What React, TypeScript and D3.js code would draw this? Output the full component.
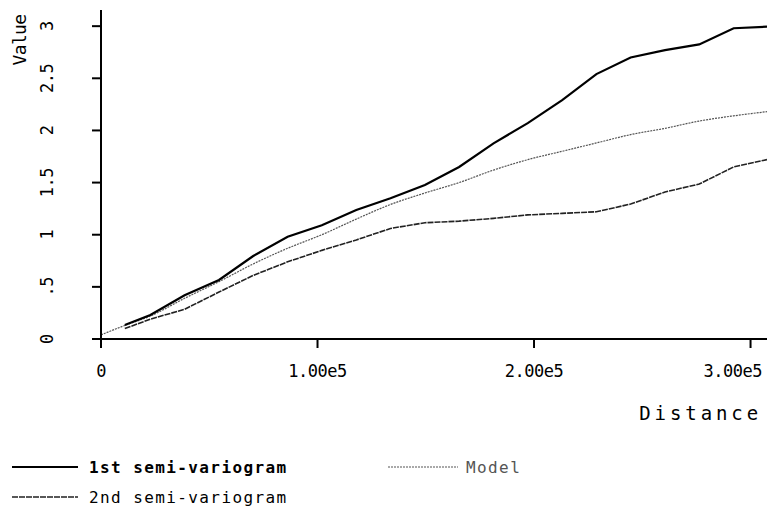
import React from "react";
import * as d3 from "d3";

const distances1 = [11000, 22800, 38600, 54500, 70300, 86200, 102000, 117900, 133700, 149600, 165400, 181300, 197100, 213000, 228800, 244600, 260500, 276300, 292200, 307600];
const firstSemi = [0.134, 0.23, 0.42, 0.566, 0.796, 0.98, 1.09, 1.237, 1.35, 1.476, 1.65, 1.876, 2.07, 2.29, 2.54, 2.70, 2.77, 2.825, 2.98, 2.995];
const secondSemi = [0.10, 0.19, 0.285, 0.45, 0.61, 0.74, 0.85, 0.95, 1.06, 1.115, 1.13, 1.157, 1.19, 1.205, 1.22, 1.294, 1.41, 1.486, 1.65, 1.72];
const modelDist = [0, 11000, 22800, 38600, 54500, 70300, 86200, 102000, 117900, 133700, 149600, 165400, 181300, 197100, 213000, 228800, 244600, 260500, 276300, 292200, 307600];
const modelVals = [0.04, 0.13, 0.22, 0.39, 0.55, 0.72, 0.87, 1.0, 1.15, 1.29, 1.40, 1.50, 1.62, 1.72, 1.80, 1.88, 1.96, 2.02, 2.09, 2.14, 2.18];
const xTicks = [0, 100000, 200000, 300000];
const xTickLabels = ["0", "1.00e5", "2.00e5", "3.00e5"];
const yTicks = [0, 0.5, 1, 1.5, 2, 2.5, 3];
const yTickLabels = ["0", ".5", "1", "1.5", "2", "2.5", "3"];

const W = 767;
const H = 509;
const FONT = "'DejaVu Sans Mono', monospace";

export default function App() {
  const x = d3.scaleLinear().domain([0, 307600]).range([101, 767]);
  const y = d3.scaleLinear().domain([0, 3.155]).range([339, 10]);

  const line = d3
    .line<[number, number]>()
    .x((d) => x(d[0]))
    .y((d) => y(d[1]));
  const smooth = d3
    .line<[number, number]>()
    .x((d) => x(d[0]))
    .y((d) => y(d[1]))
    .curve(d3.curveMonotoneX);

  const p1 = line(distances1.map((d, i) => [d, firstSemi[i]]) as [number, number][]) || "";
  const p2 = line(distances1.map((d, i) => [d, secondSemi[i]]) as [number, number][]) || "";
  const pm = smooth(modelDist.map((d, i) => [d, modelVals[i]]) as [number, number][]) || "";

  const x0 = x(0);
  const y0 = y(0);

  return (
    <svg
      width={W}
      height={H}
      style={{ position: "absolute", left: 0, top: 0, background: "#fff" }}
      fontFamily={FONT}
    >
      <rect x={0} y={0} width={W} height={H} fill="#fff" />
      <path d={pm} fill="none" stroke="#555" strokeWidth={1.2} strokeDasharray="2 1" />
      <path d={p2} fill="none" stroke="#222" strokeWidth={1.6} strokeDasharray="6 1" />
      <path d={p1} fill="none" stroke="#000" strokeWidth={2.2} />

      <line x1={x0} x2={x0} y1={y(3.155)} y2={y0 + 9} stroke="#000" strokeWidth={2} />
      <line x1={x0 - 9} x2={767} y1={y0} y2={y0} stroke="#000" strokeWidth={2} />
      {yTicks.map((t, i) => (
        <g key={"y" + i}>
          <line x1={x0 - 9} x2={x0} y1={y(t)} y2={y(t)} stroke="#000" strokeWidth={2} />
          <text
            transform={`translate(47,${y(t)}) rotate(-90)`}
            textAnchor="middle"
            dominantBaseline="central"
            fontSize={17}
            letterSpacing={-0.5}
          >
            {yTickLabels[i]}
          </text>
        </g>
      ))}
      {xTicks.map((t, i) => (
        <g key={"x" + i}>
          <line x1={x(t)} x2={x(t)} y1={y0} y2={y0 + 9} stroke="#000" strokeWidth={2} />
          <text
            x={i === xTicks.length - 1 ? 762 : x(t)}
            y={371}
            textAnchor={i === xTicks.length - 1 ? "end" : "middle"}
            dominantBaseline="central"
            fontSize={17}
            letterSpacing={-0.5}
          >
            {xTickLabels[i]}
          </text>
        </g>
      ))}
      <text
        transform={`translate(19,40) rotate(-90)`}
        textAnchor="middle"
        dominantBaseline="central"
        fontSize={18}
        letterSpacing={-0.6}
      >
        Value
      </text>
      <text x={762} y={413} textAnchor="end" dominantBaseline="central" fontSize={19} letterSpacing={3.9}>
        Distance
      </text>

      <line x1={12} x2={78} y1={467} y2={467} stroke="#000" strokeWidth={2} />
      <text x={89} y={467} dominantBaseline="central" fontSize={16} fontWeight="bold" letterSpacing={1.4}>
        1st semi-variogram
      </text>
      <line x1={388} x2={458} y1={467} y2={467} stroke="#555" strokeWidth={1.2} strokeDasharray="2 1" />
      <text x={466} y={467} dominantBaseline="central" fontSize={16} fill="#555" letterSpacing={1.4}>
        Model
      </text>
      <line x1={12} x2={78} y1={497} y2={497} stroke="#222" strokeWidth={1.4} strokeDasharray="6 1" />
      <text x={89} y={497} dominantBaseline="central" fontSize={16} letterSpacing={1.4}>
        2nd semi-variogram
      </text>
    </svg>
  );
}
